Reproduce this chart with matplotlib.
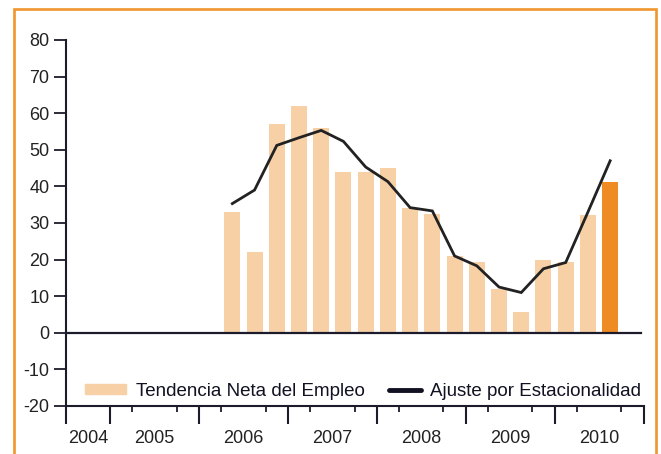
import matplotlib
matplotlib.use("Agg")
import matplotlib.pyplot as plt
import matplotlib.patches as mpatches
from matplotlib.lines import Line2D
from matplotlib.legend_handler import HandlerLine2D
import numpy as np

plt.rcParams['font.family'] = ['Liberation Sans', 'DejaVu Sans']
plt.rcParams['axes.unicode_minus'] = False

# ---- data ----
periods = ['2006Q2', '2006Q3', '2006Q4',
           '2007Q1', '2007Q2', '2007Q3', '2007Q4',
           '2008Q1', '2008Q2', '2008Q3', '2008Q4',
           '2009Q1', '2009Q2', '2009Q3', '2009Q4',
           '2010Q1', '2010Q2', '2010Q3']
tendencia = [33, 22, 57, 62, 56, 44, 44, 45, 34, 32.5, 21, 19.3, 12, 5.7, 20, 19.3, 32.2, 41.2]
ajuste = [35.3, 39, 51.2, 53.3, 55.3, 52.3, 45.3, 41.3, 34.2, 33.3, 21, 18.3, 12.5, 11, 17.5, 19.2, 33, 47]
years = ['2004', '2005', '2006', '2007', '2008', '2009', '2010']
yticks = [-20, -10, 0, 10, 20, 30, 40, 50, 60, 70, 80]
labels = ['Tendencia Neta del Empleo', 'Ajuste por Estacionalidad']

# axis starts at 2004 Q3
START_YEAR, START_Q = 2004, 3
def qindex(year, q):
    return (year - START_YEAR) * 4 + (q - START_Q)

x = np.array([qindex(int(p[:4]), int(p[-1])) + 0.5 for p in periods])
n_quarters = qindex(2010, 4) + 1
year_bounds = [0] + [qindex(int(y), 1) for y in years[1:]] + [n_quarters]
year_centers = [(a + b) / 2 for a, b in zip(year_bounds[:-1], year_bounds[1:])]

light = '#F7D0A6'
orange = '#EE8B23'
dark = '#1c1b2b'
colors = [light] * (len(tendencia) - 1) + [orange]


class ShortLine(HandlerLine2D):
    """Draw the legend line over the right part of the handle box only."""
    def __init__(self, frac=0.8, **kw):
        super().__init__(**kw)
        self.frac = frac

    def create_artists(self, legend, orig_handle, xdescent, ydescent,
                       width, height, fontsize, trans):
        shrink = width * (1 - self.frac)
        return super().create_artists(legend, orig_handle, xdescent - shrink,
                                      ydescent, width - shrink, height,
                                      fontsize, trans)


W, H = 661, 454
fig = plt.figure(figsize=(W / 100, H / 100), dpi=100)
ax = fig.add_axes([65.6 / W, 1 - 406 / H, (643.5 - 65.6) / W, (406 - 40) / H])

ax.bar(x, tendencia, width=0.72, color=colors, zorder=2)
ax.plot(x, ajuste, color='#222222', lw=2.0, zorder=4, solid_joinstyle='miter')
ax.axhline(0, xmin=0, xmax=0.995, color=dark, lw=1.6, zorder=3)

ax.set_xlim(0, n_quarters)
ax.set_ylim(-20, 80)
ax.set_yticks(yticks)
ax.tick_params(axis='y', length=8.6, width=1.3, color=dark, pad=3,
               labelsize=13, labelcolor='#222222')

for s in ['top', 'right']:
    ax.spines[s].set_visible(False)
for s in ['left', 'bottom']:
    ax.spines[s].set_color(dark)
    ax.spines[s].set_linewidth(1.5)

# year labels (major, no tick) + quarter minor ticks
ax.set_xticks(year_centers)
ax.set_xticklabels(years)
ax.tick_params(axis='x', which='major', length=0, pad=17, labelsize=13,
               labelcolor='#222222')
ax.set_xticks(np.arange(0, n_quarters + 1), minor=True)
ax.tick_params(axis='x', which='minor', length=4, width=1.3, color=dark)

sec = ax.secondary_xaxis('bottom')
sec.set_xticks(year_bounds)
sec.set_xticklabels([''] * len(year_bounds))
sec.tick_params(axis='x', length=13, width=1.5, color=dark)
sec.spines['bottom'].set_visible(False)

line_handle = Line2D([], [], color='#111122', lw=3.5, solid_capstyle='round')
handles = [mpatches.Patch(color=light), line_handle]
ax.legend(handles, labels, ncol=2, frameon=False, fontsize=13.5,
          loc='center left', bbox_to_anchor=(0.034, 0.04), borderpad=0,
          borderaxespad=0, handlelength=2.2, handleheight=0.45,
          handletextpad=0.5, columnspacing=0.8, labelcolor='#111122',
          handler_map={line_handle: ShortLine(frac=0.78)})

# orange frame
frame = mpatches.Rectangle((14 / W, -0.1), (656 - 14) / W, 1 - 9 / H + 0.1,
                           transform=fig.transFigure, fill=False,
                           edgecolor='#F0962E', lw=1.9, zorder=10)
fig.patches.append(frame)

fig.savefig('out.png', dpi=100)
